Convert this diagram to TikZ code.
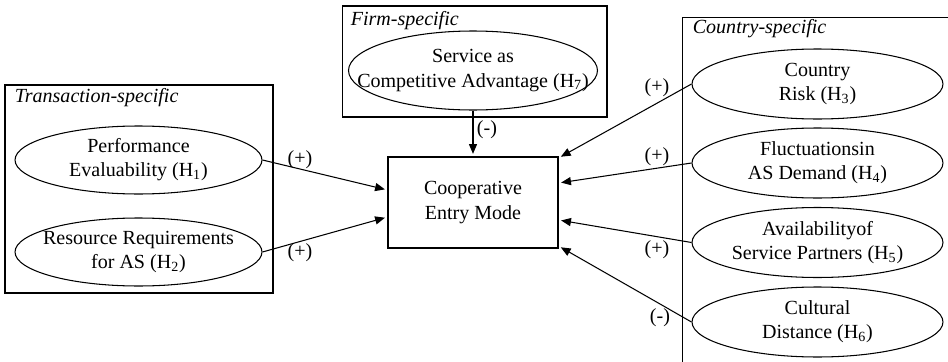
\documentclass[tikz,border=0pt]{standalone}
\usepackage{fontspec}
\setmainfont{Liberation Serif}
\usetikzlibrary{arrows.meta,shapes.geometric}

\newcommand{\figfont}{\fontsize{11.4}{13.7}\selectfont}

\tikzset{
  factor/.style={ellipse, draw, line width=0.6pt, align=center, inner xsep=-20pt, inner ysep=0pt},
  groupbox/.style={draw, line width=0.6pt, rectangle, inner sep=0pt},
  grouptitle/.style={anchor=base west, inner sep=0pt, font=\figfont\itshape},
  sign/.style={inner sep=0pt},
  link/.style={->, line width=0.6pt, shorten >=1.5pt},
}

\begin{document}
\begin{tikzpicture}[x=0.02cm, y=-0.02cm, >={Triangle[length=5.6pt,width=4.6pt]}, font=\figfont]
      \useasboundingbox (0,0) rectangle (948,362);
      \clip (0,0) rectangle (948,362);

      % Group boxes
      \node[groupbox, minimum width=5.36cm, minimum height=4.16cm] (trans) at (139,189) {};
      \node[groupbox, minimum width=5.3cm, minimum height=2.22cm] (firm) at (474.5,61.5) {};
      \node[groupbox, minimum width=5.56cm, minimum height=7.26cm] (country) at (821,198.5) {};

      \node[grouptitle] (transtitle) at ([xshift=0.2cm,yshift=-0.36cm]trans.north west) {Transaction-specific};
      \node[grouptitle] (firmtitle) at ([xshift=0.18cm,yshift=-0.4cm]firm.north west) {Firm-specific};
      \node[grouptitle] (countrytitle) at ([xshift=0.22cm,yshift=-0.34cm]country.north west) {Country-specific};

      % Factors
      \node[factor, minimum width=4.94cm, minimum height=1.36cm] (perf) at (138.5,160) {Performance\\Evaluability (H\textsubscript{1})};
      \node[factor, minimum width=4.94cm, minimum height=1.36cm] (res) at (138.5,252) {Resource Requirements\\for AS (H\textsubscript{2})};
      \node[factor, minimum width=4.98cm, minimum height=1.58cm] (adv) at (473,70.5) {Service as\\Competitive Advantage (H\textsubscript{7})};
      \node[factor, minimum width=5.02cm, minimum height=1.4cm] (risk) at (817.5,84) {Country\\Risk (H\textsubscript{3})};
      \node[factor, minimum width=5.02cm, minimum height=1.4cm] (demand) at (817.5,163) {Fluctuationsin\\AS Demand (H\textsubscript{4})};
      \node[factor, minimum width=5.02cm, minimum height=1.4cm] (partners) at (817.5,242.5) {Availabilityof\\Service Partners (H\textsubscript{5})};
      \node[factor, minimum width=5.02cm, minimum height=1.4cm] (distance) at (817.5,322) {Cultural\\Distance (H\textsubscript{6})};

      % Entry mode
      \node[draw, line width=0.6pt, minimum width=3.4cm, minimum height=1.82cm, align=center] (coop) at (473,202.5) {Cooperative\\Entry Mode};

      % Hypothesised effects
      \draw[link] (adv.south) -- (coop.north);
      \draw[link] (perf.east) -- ([yshift=0.25cm]coop.west);
      \draw[link] (res.east) -- ([yshift=-0.29cm]coop.west);
      \draw[link] (risk.west) -- ([yshift=0.89cm]coop.east);
      \draw[link] (demand.west) -- ([yshift=0.39cm]coop.east);
      \draw[link] (partners.west) -- ([yshift=-0.35cm]coop.east);
      \draw[link] (distance.west) -- ([yshift=-0.87cm]coop.east);

      % Signs
      \node[sign] (s1) at (300,160) {(+)};
      \node[sign] (s2) at (300,253) {(+)};
      \node[sign] (s7) at (487,130) {(-)};
      \node[sign] (s3) at (657,88) {(+)};
      \node[sign] (s4) at (657,157) {(+)};
      \node[sign] (s5) at (657,250) {(+)};
      \node[sign] (s6) at (660,318) {(-)};
\end{tikzpicture}
\end{document}
